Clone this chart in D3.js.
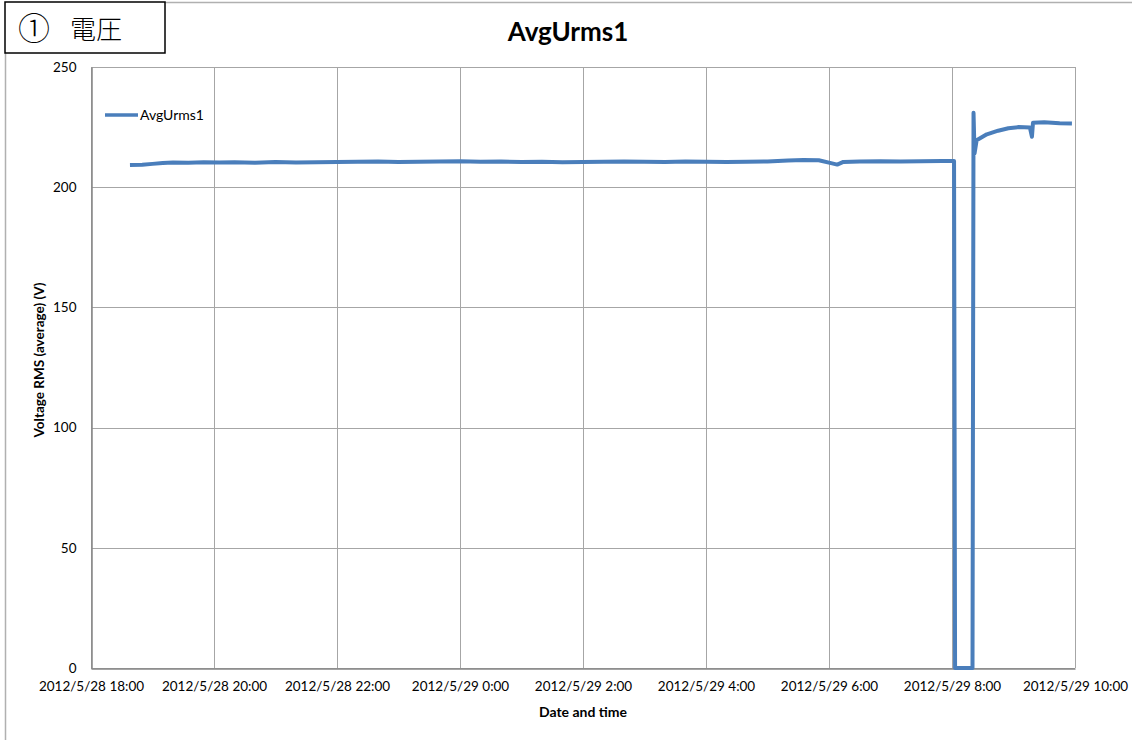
<!DOCTYPE html>
<html>
<head>
<meta charset="utf-8">
<script src="https://cdn.jsdelivr.net/npm/d3@7"></script>
<style>
  body { margin: 0; background: #fff; }
  text { font-family: Lato, "Open Sans", sans-serif; fill: #000; }
</style>
</head>
<body>
<div id="chart"></div>
<script>
// Chart data
const seriesName = "AvgUrms1";
const times = [
  "2012-05-28 18:38", "2012-05-28 18:50", "2012-05-28 19:00", "2012-05-28 19:10",
  "2012-05-28 19:20", "2012-05-28 19:35", "2012-05-28 19:50", "2012-05-28 20:05",
  "2012-05-28 20:20", "2012-05-28 20:40", "2012-05-28 21:00", "2012-05-28 21:20",
  "2012-05-28 21:40", "2012-05-28 22:00", "2012-05-28 22:20", "2012-05-28 22:40",
  "2012-05-28 23:00", "2012-05-28 23:20", "2012-05-28 23:40", "2012-05-29 00:00",
  "2012-05-29 00:20", "2012-05-29 00:40", "2012-05-29 01:00", "2012-05-29 01:20",
  "2012-05-29 01:40", "2012-05-29 02:00", "2012-05-29 02:20", "2012-05-29 02:40",
  "2012-05-29 03:00", "2012-05-29 03:20", "2012-05-29 03:40", "2012-05-29 04:00",
  "2012-05-29 04:20", "2012-05-29 04:40", "2012-05-29 05:00", "2012-05-29 05:20",
  "2012-05-29 05:35", "2012-05-29 05:50", "2012-05-29 06:02", "2012-05-29 06:08",
  "2012-05-29 06:14", "2012-05-29 06:30", "2012-05-29 06:50", "2012-05-29 07:10",
  "2012-05-29 07:30", "2012-05-29 07:50", "2012-05-29 08:02", "2012-05-29 08:03",
  "2012-05-29 08:20", "2012-05-29 08:21", "2012-05-29 08:22", "2012-05-29 08:24",
  "2012-05-29 08:34", "2012-05-29 08:45", "2012-05-29 08:55", "2012-05-29 09:05",
  "2012-05-29 09:16", "2012-05-29 09:18", "2012-05-29 09:19", "2012-05-29 09:30",
  "2012-05-29 09:45", "2012-05-29 09:57"
];
const voltages = [
  209.2, 209.3, 209.7, 210.1,
  210.3, 210.2, 210.4, 210.3,
  210.4, 210.2, 210.5, 210.3,
  210.4, 210.5, 210.6, 210.7,
  210.5, 210.6, 210.7, 210.8,
  210.6, 210.7, 210.5, 210.6,
  210.4, 210.5, 210.6, 210.7,
  210.6, 210.5, 210.7, 210.6,
  210.5, 210.6, 210.7, 211.1,
  211.3, 211.2, 210.0, 209.4,
  210.5, 210.7, 210.8, 210.7,
  210.8, 210.9, 210.9, 0,
  0, 231.0, 214.0, 219.5,
  222.0, 223.5, 224.5, 225.0,
  224.8, 221.0, 226.8, 227.0,
  226.6, 226.5
];
const xTickLabels = [
  "2012/5/28 18:00", "2012/5/28 20:00", "2012/5/28 22:00", "2012/5/29 0:00",
  "2012/5/29 2:00", "2012/5/29 4:00", "2012/5/29 6:00", "2012/5/29 8:00",
  "2012/5/29 10:00"
];
const yTicks = [0, 50, 100, 150, 200, 250];

const width = 1132;
const height = 740;
const lineColor = "#4a7ebb";
const gridColor = "#a6a6a6";

const parseTime = d3.timeParse("%Y-%m-%d %H:%M");
const data = times.map((t, i) => ({ time: parseTime(t), value: voltages[i] }));
const tickDates = d3.range(xTickLabels.length).map((i) =>
  d3.timeHour.offset(parseTime("2012-05-28 18:00"), i * 2)
);

const svg = d3
  .select("#chart")
  .append("svg")
  .attr("width", width)
  .attr("height", height);

// Scales (plot area from the picture)
const xScale = d3
  .scaleTime()
  .domain([tickDates[0], tickDates[tickDates.length - 1]])
  .range([91, 1075]);

const yScale = d3.scaleLinear().domain([0, 250]).range([668, 67]);

// Outer frame of the sheet
svg.append("line")
  .attr("x1", 165).attr("x2", width).attr("y1", 2.5).attr("y2", 2.5)
  .attr("stroke", "#b0b0b0").attr("stroke-width", 1.5);
svg.append("line")
  .attr("x1", 5.5).attr("x2", 5.5).attr("y1", 53).attr("y2", height)
  .attr("stroke", "#b0b0b0").attr("stroke-width", 1.5);

// Label box in the corner
svg.append("rect")
  .attr("x", 5).attr("y", 2).attr("width", 160).attr("height", 51)
  .attr("fill", "#fff").attr("stroke", "#000").attr("stroke-width", 1.5);
svg.append("text")
  .attr("x", 18).attr("y", 40)
  .style("font-family", "'Noto Sans CJK JP', sans-serif")
  .style("font-size", "32px").style("font-weight", 300)
  .text("①");
svg.append("text")
  .attr("x", 70).attr("y", 39)
  .style("font-family", "'Noto Sans CJK JP', sans-serif")
  .style("font-size", "26px").style("font-weight", 300)
  .text("電圧");

// Gridlines
svg.append("g")
  .selectAll("line")
  .data(yTicks)
  .join("line")
  .attr("x1", xScale.range()[0]).attr("x2", xScale.range()[1])
  .attr("y1", (d) => Math.round(yScale(d)) + 0.5)
  .attr("y2", (d) => Math.round(yScale(d)) + 0.5)
  .attr("stroke", gridColor).attr("stroke-width", 1);

svg.append("g")
  .selectAll("line")
  .data(tickDates)
  .join("line")
  .attr("x1", (d) => Math.round(xScale(d)) + 0.5)
  .attr("x2", (d) => Math.round(xScale(d)) + 0.5)
  .attr("y1", yScale(250)).attr("y2", yScale(0))
  .attr("stroke", gridColor).attr("stroke-width", 1);

// Axes
const xAxis = svg.append("g")
  .attr("transform", `translate(0, ${Math.round(yScale(0)) + 0.5})`)
  .call(d3.axisBottom(xScale).tickValues(tickDates).tickSize(0)
    .tickFormat((d, i) => xTickLabels[i]));
xAxis.select(".domain").attr("stroke", "#868686").attr("stroke-width", 1.5);
xAxis.selectAll("text").attr("dy", "1.45em").style("font-size", "13.5px")
  .style("font-family", "Lato, sans-serif");

const yAxis = svg.append("g")
  .attr("transform", `translate(${Math.round(xScale.range()[0]) + 0.5}, 0)`)
  .call(d3.axisLeft(yScale).tickValues(yTicks).tickSize(0).tickPadding(15));
yAxis.select(".domain").attr("stroke", "#868686").attr("stroke-width", 1.5);
yAxis.selectAll("text").style("font-size", "13.5px")
  .style("font-family", "Lato, sans-serif");

// Series line
const line = d3
  .line()
  .x((d) => xScale(d.time))
  .y((d) => yScale(d.value));

svg.append("path")
  .datum(data)
  .attr("fill", "none")
  .attr("stroke", lineColor)
  .attr("stroke-width", 4)
  .attr("stroke-linejoin", "round")
  .attr("d", line);

// Title and axis titles
svg.append("text")
  .attr("x", 568).attr("y", 41)
  .attr("text-anchor", "middle")
  .style("font-size", "26px").style("font-weight", "bold")
  .text(seriesName);

svg.append("text")
  .attr("transform", "translate(44, 360) rotate(-90)")
  .attr("text-anchor", "middle")
  .style("font-size", "13.5px").style("font-weight", "bold")
  .text("Voltage RMS (average) (V)");

svg.append("text")
  .attr("x", 583).attr("y", 717)
  .attr("text-anchor", "middle")
  .style("font-size", "14px").style("font-weight", "bold")
  .text("Date and time");

// Legend
svg.append("line")
  .attr("x1", 105).attr("x2", 138).attr("y1", 115).attr("y2", 115)
  .attr("stroke", lineColor).attr("stroke-width", 3.5);
svg.append("text")
  .attr("x", 140).attr("y", 120)
  .style("font-size", "14px")
  .text(seriesName);
</script>
</body>
</html>
